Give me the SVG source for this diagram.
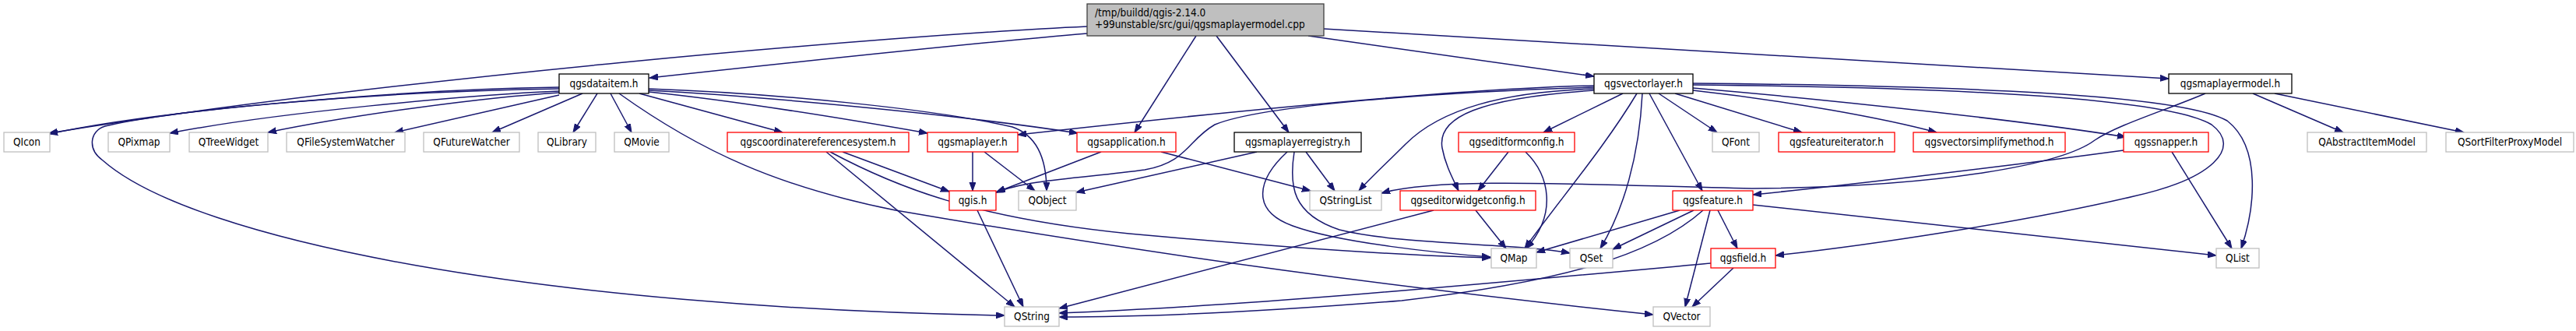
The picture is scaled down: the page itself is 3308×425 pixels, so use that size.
<svg xmlns="http://www.w3.org/2000/svg" width="3308" height="425" viewBox="0 0 3308 425">
<style>
.n rect{fill:#ffffff;stroke-width:1.3}
.k rect{stroke:#000000}
.r rect{stroke:#ff0000}
.g rect{stroke:#bfbfbf}
.m rect{fill:#bfbfbf;stroke:#404040}
text{font-family:"DejaVu Sans Condensed","DejaVu Sans",sans-serif;font-size:13.5px;fill:#000000}
.n text{text-anchor:middle}
.m text{text-anchor:start}
#edges path{fill:none;stroke:#191970;stroke-width:1.5;marker-end:url(#ah)}
</style>
<defs>
<marker id="ah" markerUnits="userSpaceOnUse" markerWidth="12" markerHeight="9" refX="11" refY="4" orient="auto">
<path d="M0,0 L11,4 L0,8 z" fill="#191970" stroke="#191970" stroke-width="1"/>
</marker>
</defs>
<rect x="0" y="0" width="3308" height="425" fill="#ffffff"/>
<g id="edges">
<path d="M1396,34 C1150,45 500,100 63,171"/>
<path d="M1396,43 C1250,55 1000,82 834,100"/>
<path d="M1536,46 L1457,170"/>
<path d="M1562,46 L1655,170"/>
<path d="M1680,46 L2047,98"/>
<path d="M1700,37 L2785,101"/>
<path d="M718,112 C550,114 220,138 63,172"/>
<path d="M718,114 C450,118 200,145 135,162 C115,168 112,192 132,206 C250,310 700,395 1290,405"/>
<path d="M718,117 C600,122 350,145 218,171"/>
<path d="M718,119 C620,125 450,148 344,170"/>
<path d="M718,122 L507,170"/>
<path d="M748,120 L632,170"/>
<path d="M767,120 L736,170"/>
<path d="M784,120 L811,170"/>
<path d="M795,120 C900,195 1000,240 1150,270 C1500,330 1800,370 2123,404"/>
<path d="M821,120 L1005,170"/>
<path d="M833,118 C950,130 1100,155 1191,171"/>
<path d="M833,116 C1000,125 1250,150 1384,171"/>
<path d="M833,114 C1000,120 1200,140 1300,163 C1335,175 1344,210 1344,245"/>
<path d="M1082,195 L1219,246"/>
<path d="M1066,195 C1150,240 1250,280 1450,300 C1650,318 1800,328 1914,331"/>
<path d="M1061,195 L1303,394"/>
<path d="M1249,195 L1249,245"/>
<path d="M1264,195 L1329,245"/>
<path d="M1414,195 L1279,247"/>
<path d="M1491,195 L1683,245"/>
<path d="M1255,270 L1314,394"/>
<path d="M1614,195 L1382,247"/>
<path d="M1677,195 L1714,245"/>
<path d="M1653,195 C1615,230 1605,270 1660,290 C1720,312 1850,325 1914,330"/>
<path d="M1662,195 C1655,240 1660,275 1720,295 C1800,315 1950,312 2016,325"/>
<path d="M2047,110 C1900,113 1650,135 1307,173"/>
<path d="M2047,112 C1850,118 1620,135 1560,160 C1525,180 1525,208 1470,218 C1400,228 1320,230 1280,247"/>
<path d="M2047,114 C1930,118 1850,140 1805,185 C1780,210 1760,228 1745,245"/>
<path d="M2047,116 C1900,126 1845,150 1852,190 C1856,212 1866,230 1873,245"/>
<path d="M2084,120 L1982,170"/>
<path d="M2102,120 C2060,190 2000,260 1958,319"/>
<path d="M2109,120 C2105,200 2085,270 2055,319"/>
<path d="M2118,120 L2186,245"/>
<path d="M2130,120 L2205,170"/>
<path d="M2151,120 L2314,170"/>
<path d="M2174,116 C2300,130 2420,152 2487,170"/>
<path d="M2174,113 C2350,128 2600,155 2730,176"/>
<path d="M2174,107 C2500,110 2800,120 2860,155 C2905,190 2895,270 2878,319"/>
<path d="M2174,109 C2500,112 2780,125 2840,160 C2880,190 2840,230 2740,252 C2600,285 2400,315 2280,328"/>
<path d="M1937,195 L1898,245"/>
<path d="M1959,195 C1990,225 2000,275 1960,319"/>
<path d="M1895,270 L1934,319"/>
<path d="M1841,270 L1360,396"/>
<path d="M2157,270 L1973,324"/>
<path d="M2175,270 L2071,320"/>
<path d="M2187,270 C2120,330 2000,362 1800,386 C1600,402 1450,407 1360,407"/>
<path d="M2196,270 L2164,394"/>
<path d="M2206,270 L2231,319"/>
<path d="M2251,263 L2846,328"/>
<path d="M2197,338 C1900,365 1600,393 1360,402"/>
<path d="M2226,344 L2173,394"/>
<path d="M2727,193 C2550,217 2350,240 2251,250"/>
<path d="M2789,195 L2866,319"/>
<path d="M2893,120 L3009,170"/>
<path d="M2921,120 L3164,170"/>
<path d="M2832,120 C2780,142 2720,160 2690,180 C2650,210 2500,240 2250,242 C2050,238 1850,226 1774,248"/>
</g>
<g id="main" class="n m"><rect x="1396" y="5" width="304" height="41"/><text x="1406" y="21">/tmp/buildd/qgis-2.14.0</text><text x="1406" y="36">+99unstable/src/gui/qgsmaplayermodel.cpp</text></g>
<g id="qgsdataitem" class="n k"><rect x="718" y="95" width="115" height="25"/><text x="775.5" y="112">qgsdataitem.h</text></g>
<g id="qgsvectorlayer" class="n k"><rect x="2047" y="95" width="127" height="25"/><text x="2110.5" y="112">qgsvectorlayer.h</text></g>
<g id="qgsmaplayermodel" class="n k"><rect x="2785" y="95" width="158" height="25"/><text x="2864" y="112">qgsmaplayermodel.h</text></g>
<g id="qgsmaplayerregistry" class="n k"><rect x="1585" y="170" width="163" height="25"/><text x="1666.5" y="187">qgsmaplayerregistry.h</text></g>
<g id="QIcon" class="n g"><rect x="5" y="170" width="59" height="25"/><text x="34.5" y="187">QIcon</text></g>
<g id="QPixmap" class="n g"><rect x="139" y="170" width="79" height="25"/><text x="178.5" y="187">QPixmap</text></g>
<g id="QTreeWidget" class="n g"><rect x="243" y="170" width="101" height="25"/><text x="293.5" y="187">QTreeWidget</text></g>
<g id="QFileSystemWatcher" class="n g"><rect x="368" y="170" width="152" height="25"/><text x="444" y="187">QFileSystemWatcher</text></g>
<g id="QFutureWatcher" class="n g"><rect x="544" y="170" width="123" height="25"/><text x="605.5" y="187">QFutureWatcher</text></g>
<g id="QLibrary" class="n g"><rect x="691" y="170" width="74" height="25"/><text x="728" y="187">QLibrary</text></g>
<g id="QMovie" class="n g"><rect x="789" y="170" width="70" height="25"/><text x="824" y="187">QMovie</text></g>
<g id="qgscoordinatereferencesystem" class="n r"><rect x="934" y="170" width="233" height="25"/><text x="1050.5" y="187">qgscoordinatereferencesystem.h</text></g>
<g id="qgsmaplayer" class="n r"><rect x="1191" y="170" width="116" height="25"/><text x="1249" y="187">qgsmaplayer.h</text></g>
<g id="qgsapplication" class="n r"><rect x="1383" y="170" width="127" height="25"/><text x="1446.5" y="187">qgsapplication.h</text></g>
<g id="qgseditformconfig" class="n r"><rect x="1873" y="170" width="149" height="25"/><text x="1947.5" y="187">qgseditformconfig.h</text></g>
<g id="QFont" class="n g"><rect x="2199" y="170" width="60" height="25"/><text x="2229" y="187">QFont</text></g>
<g id="qgsfeatureiterator" class="n r"><rect x="2284" y="170" width="149" height="25"/><text x="2358.5" y="187">qgsfeatureiterator.h</text></g>
<g id="qgsvectorsimplifymethod" class="n r"><rect x="2457" y="170" width="195" height="25"/><text x="2554.5" y="187">qgsvectorsimplifymethod.h</text></g>
<g id="qgssnapper" class="n r"><rect x="2727" y="170" width="109" height="25"/><text x="2781.5" y="187">qgssnapper.h</text></g>
<g id="QAbstractItemModel" class="n g"><rect x="2963" y="170" width="153" height="25"/><text x="3039.5" y="187">QAbstractItemModel</text></g>
<g id="QSortFilterProxyModel" class="n g"><rect x="3141" y="170" width="164" height="25"/><text x="3223" y="187">QSortFilterProxyModel</text></g>
<g id="qgis" class="n r"><rect x="1219" y="245" width="60" height="25"/><text x="1249" y="262">qgis.h</text></g>
<g id="QObject" class="n g"><rect x="1308" y="245" width="74" height="25"/><text x="1345" y="262">QObject</text></g>
<g id="QStringList" class="n g"><rect x="1682" y="245" width="92" height="25"/><text x="1728" y="262">QStringList</text></g>
<g id="qgseditorwidgetconfig" class="n r"><rect x="1798" y="245" width="174" height="25"/><text x="1885" y="262">qgseditorwidgetconfig.h</text></g>
<g id="qgsfeature" class="n r"><rect x="2148" y="245" width="103" height="25"/><text x="2199.5" y="262">qgsfeature.h</text></g>
<g id="QMap" class="n g"><rect x="1915" y="319" width="58" height="25"/><text x="1944" y="336">QMap</text></g>
<g id="QSet" class="n g"><rect x="2016" y="319" width="55" height="25"/><text x="2043.5" y="336">QSet</text></g>
<g id="qgsfield" class="n r"><rect x="2197" y="319" width="83" height="25"/><text x="2238.5" y="336">qgsfield.h</text></g>
<g id="QList" class="n g"><rect x="2846" y="319" width="55" height="25"/><text x="2873.5" y="336">QList</text></g>
<g id="QString" class="n g"><rect x="1290" y="394" width="70" height="25"/><text x="1325" y="411">QString</text></g>
<g id="QVector" class="n g"><rect x="2123" y="394" width="73" height="25"/><text x="2159.5" y="411">QVector</text></g>
</svg>
